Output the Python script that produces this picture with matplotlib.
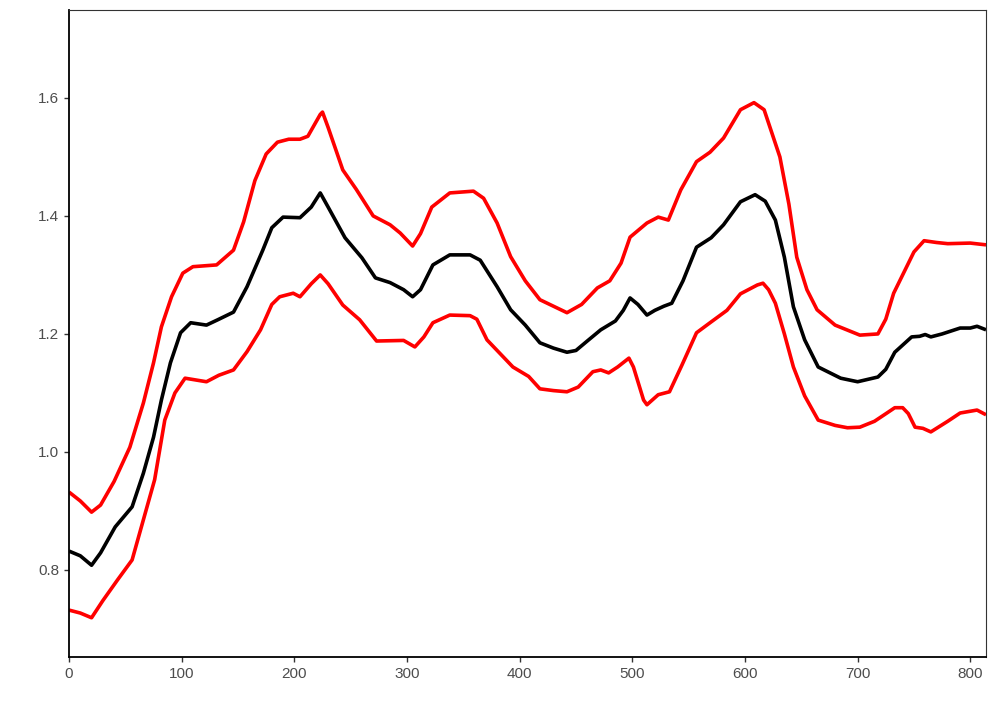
import numpy as np
import matplotlib.pyplot as plt

plt.rcParams['font.family'] = ['Liberation Sans', 'DejaVu Sans']

# centre line
mean_x = [0, 10, 20, 28, 41, 56, 66, 75, 82, 90, 99, 108, 122, 132, 146, 158, 172, 180, 190,
          205, 215, 223, 230, 245, 260, 272, 285, 297, 305, 312, 323, 338, 356, 365, 380, 392, 405,
          418, 430, 442, 450, 460, 472, 485, 492, 498, 505, 513, 520, 528, 535, 545, 557, 570, 581,
          596, 609, 618, 627, 635, 643, 653, 665, 685, 700, 718, 725, 733, 748, 755, 760, 765, 775,
          791, 800, 806, 814]
mean_y = [0.832, 0.824, 0.808, 0.829, 0.873, 0.907, 0.964, 1.025, 1.088, 1.151, 1.202, 1.219, 1.215,
          1.224, 1.237, 1.280, 1.342, 1.380, 1.398, 1.397, 1.415, 1.439, 1.415, 1.363, 1.329,
          1.295, 1.287, 1.275, 1.263, 1.275, 1.317, 1.334, 1.334, 1.325, 1.280, 1.241, 1.215, 1.185,
          1.176, 1.169, 1.172, 1.188, 1.207, 1.222, 1.240, 1.261, 1.250, 1.232, 1.240, 1.247, 1.252,
          1.290, 1.347, 1.363, 1.385, 1.424, 1.436, 1.425, 1.393, 1.330, 1.246, 1.190, 1.144, 1.125,
          1.119, 1.127, 1.140, 1.169, 1.195, 1.196, 1.199, 1.195, 1.200, 1.210, 1.210, 1.213, 1.207]

# upper band
upper_x = [0, 10, 20, 28, 40, 54, 66, 75, 82, 91, 101, 110, 131, 146, 155, 165, 175, 185, 195, 205,
           212, 223, 225, 230, 243, 255, 270, 285, 294, 305, 312, 322, 338, 359, 368, 380, 392, 405,
           418, 430, 442, 455, 469, 480, 490, 498, 513, 523, 532, 543, 557, 569, 581, 596, 608, 617,
           631, 639, 646, 655, 664, 680, 702, 718, 725, 732, 750, 759, 770, 780, 800, 814]
upper_y = [0.932, 0.917, 0.898, 0.910, 0.950, 1.008, 1.083, 1.151, 1.212, 1.263, 1.303, 1.314, 1.317,
           1.342, 1.390, 1.460, 1.505, 1.525, 1.530, 1.530, 1.535, 1.572, 1.576, 1.550, 1.478, 1.445,
           1.400, 1.385, 1.371, 1.349, 1.370, 1.415, 1.439, 1.442, 1.430, 1.388, 1.331, 1.290, 1.258,
           1.247, 1.236, 1.250, 1.278, 1.290, 1.320, 1.364, 1.388, 1.398, 1.393, 1.444, 1.492, 1.508,
           1.532, 1.580, 1.592, 1.580, 1.500, 1.420, 1.330, 1.275, 1.241, 1.215, 1.198, 1.200, 1.225,
           1.269, 1.339, 1.358, 1.355, 1.353, 1.354, 1.351]

# lower band
lower_x = [0, 10, 20, 30, 43, 56, 66, 76, 85, 94, 103, 122, 133, 146, 158, 170, 180, 187, 199, 205,
           215, 223, 230, 243, 258, 273, 297, 307, 315, 323, 338, 356, 362, 371, 394, 408, 418, 430,
           442, 452, 465, 472, 479, 487, 497, 501, 510, 513, 523, 533, 544, 557, 569, 584, 596, 611,
           616, 621, 627, 635, 643, 653, 665, 680, 691, 702, 715, 726, 733, 740, 745, 751, 758, 765,
           780, 791, 806, 814]
lower_y = [0.732, 0.727, 0.719, 0.748, 0.783, 0.817, 0.885, 0.953, 1.054, 1.100, 1.125, 1.119, 1.130,
           1.139, 1.170, 1.207, 1.250, 1.263, 1.269, 1.263, 1.285, 1.300, 1.285, 1.249, 1.224, 1.188,
           1.189, 1.178, 1.195, 1.219, 1.232, 1.231, 1.225, 1.190, 1.144, 1.128, 1.107, 1.104, 1.102,
           1.110, 1.136, 1.139, 1.134, 1.144, 1.159, 1.144, 1.088, 1.080, 1.097, 1.102, 1.147, 1.202,
           1.219, 1.240, 1.268, 1.283, 1.286, 1.275, 1.252, 1.200, 1.144, 1.095, 1.054, 1.045, 1.041,
           1.042, 1.052, 1.066, 1.075, 1.075, 1.065, 1.042, 1.040, 1.034, 1.052, 1.066, 1.071, 1.063]

fig = plt.figure(figsize=(9.96, 7.2), dpi=100)
ax = fig.add_axes([0.0693, 0.0875, 0.9207, 0.8986])

style = dict(lw=2.6, solid_capstyle="butt", solid_joinstyle="round")
ax.plot(upper_x, upper_y, color="red", **style)
ax.plot(lower_x, lower_y, color="red", **style)
ax.plot(mean_x, mean_y, color="black", **style)

ax.set_xlim(0, 814)
ax.set_ylim(0.6525, 1.749)
ax.set_xticks([0, 100, 200, 300, 400, 500, 600, 700, 800])
ax.set_yticks([0.8, 1.0, 1.2, 1.4, 1.6])

for s in ["left", "bottom"]:
    ax.spines[s].set_linewidth(1.3)
for s in ["top", "right"]:
    ax.spines[s].set_linewidth(0.8)
    ax.spines[s].set_color("#333333")
ax.tick_params(length=3.5, width=1.0, colors="#333333", labelcolor="#4D4D4D", labelsize=11)

fig.savefig("out.png", dpi=100)
